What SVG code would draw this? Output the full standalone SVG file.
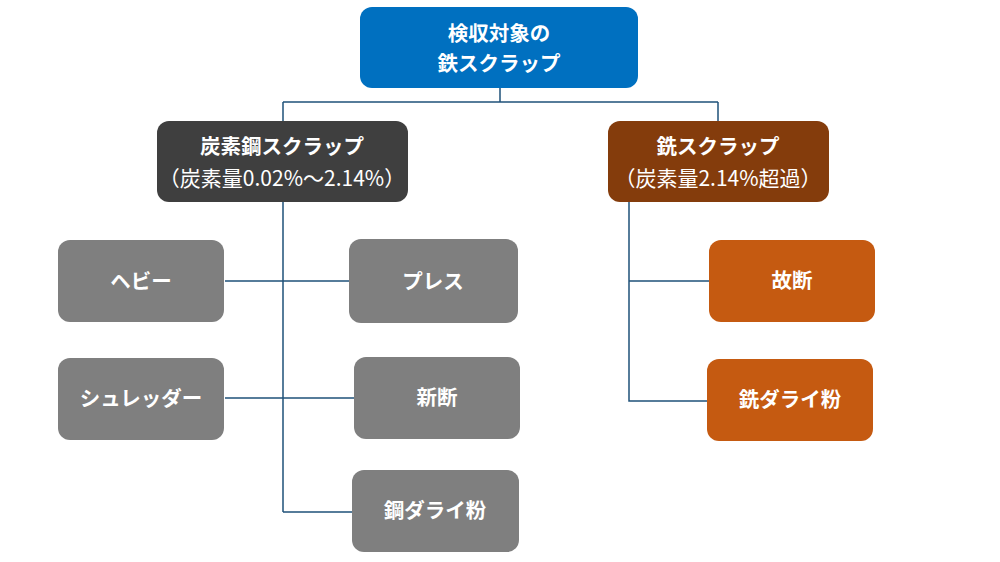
<svg xmlns="http://www.w3.org/2000/svg" width="1000" height="562" viewBox="0 0 1000 562">
<style>
text{font-family:"Noto Sans CJK JP","Noto Sans",sans-serif;fill:#fff;text-anchor:middle;dominant-baseline:central}
.b{font-weight:bold;font-size:20.5px}
.n{font-weight:normal;font-size:21px}
.gray rect{fill:#7f7f7f}
.or rect{fill:#c55a11}
#conn path{fill:none;stroke:#1f527a;stroke-width:1.5}
</style>
<rect width="1000" height="562" fill="#fff"/>
<g id="conn">
<path d="M500 88V102M283 102H718M283 102V121M718 102V121"/>
<path d="M283 202V512M225 281H349M225 398H354M283 512H352"/>
<path d="M629 202V401H707M629 281H709"/>
</g>
<g id="root"><rect x="360" y="7" width="278" height="81" rx="12" fill="#0070c0"/>
<text class="b" x="499" y="32">検収対象の</text><text class="b" x="499" y="62">鉄スクラップ</text></g>
<g id="carbon"><rect x="157" y="121" width="251" height="81" rx="12" fill="#3f3f3f"/>
<text class="b" x="282" y="145">炭素鋼スクラップ</text><text class="n" x="282" y="177">（炭素量0.02%～2.14%）</text></g>
<g id="iron"><rect x="608" y="121" width="221" height="81" rx="12" fill="#843c0c"/>
<text class="b" x="718" y="145">銑スクラップ</text><text class="n" x="718" y="177">（炭素量2.14%超過）</text></g>
<g id="heavy" class="gray"><rect x="58" y="240" width="166" height="82" rx="12"/><text class="b" x="141" y="280">ヘビー</text></g>
<g id="press" class="gray"><rect x="349" y="239" width="169" height="84" rx="12"/><text class="b" x="433" y="280">プレス</text></g>
<g id="shredder" class="gray"><rect x="58" y="358" width="166" height="82" rx="12"/><text class="b" x="141" y="397">シュレッダー</text></g>
<g id="shindan" class="gray"><rect x="354" y="357" width="166" height="82" rx="12"/><text class="b" x="437" y="396">新断</text></g>
<g id="kodarai" class="gray"><rect x="352" y="470" width="167" height="82" rx="12"/><text class="b" x="435" y="509">鋼ダライ粉</text></g>
<g id="kodan" class="or"><rect x="709" y="240" width="166" height="82" rx="12"/><text class="b" x="792" y="279">故断</text></g>
<g id="sendarai" class="or"><rect x="707" y="359" width="166" height="82" rx="12"/><text class="b" x="790" y="398">銑ダライ粉</text></g>
</svg>
